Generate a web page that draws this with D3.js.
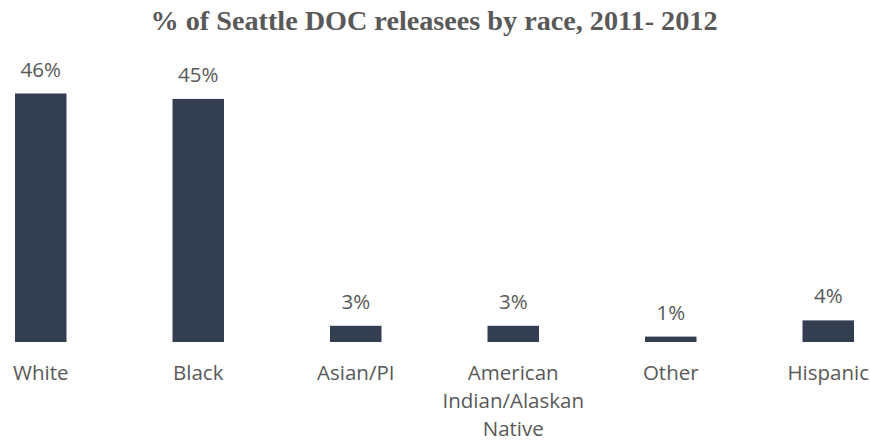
<!DOCTYPE html>
<html>
<head>
<meta charset="utf-8">
<script src="https://cdn.jsdelivr.net/npm/d3@7"></script>
<style>
  html, body { margin: 0; padding: 0; background: #fff; }
  svg { display: block; }
</style>
</head>
<body>
<svg id="chart" width="870" height="440"></svg>
<script>
// Share of Seattle DOC releasees by race, 2011-2012
const titleText = "% of Seattle DOC releasees by race, 2011- 2012";
const categories = ["White", "Black", "Asian/PI", "American Indian/Alaskan Native", "Other", "Hispanic"];
const values = [46, 45, 3, 3, 1, 4];
const valueLabels = ["46%", "45%", "3%", "3%", "1%", "4%"];

const W = 870, H = 440;
const barColor = "#333F50";
const textColor = "#595959";
const labelFont = "'Open Sans', 'Noto Sans', sans-serif";

const svg = d3.select("#chart");

// Horizontal band layout; the plot area runs slightly past both image edges
const x = d3.scaleBand()
  .domain(categories)
  .range([-91, 960])
  .paddingInner(0.673)
  .paddingOuter(0.673);

const y = d3.scaleLinear()
  .domain([0, 46])
  .range([342, 93.5]);

// Title, sized to span its full width
const title = svg.append("text")
  .attr("x", 434)
  .attr("y", 30)
  .attr("text-anchor", "middle")
  .attr("fill", textColor)
  .style("font-family", "'Liberation Serif', 'Times New Roman', serif")
  .style("font-weight", "bold")
  .style("font-size", "24px")
  .text(titleText);
const tw = title.node().getComputedTextLength();
title.style("font-size", (24 * 567 / tw).toFixed(2) + "px");

// Bars
svg.append("g").selectAll("rect")
  .data(categories)
  .join("rect")
  .attr("x", d => x(d))
  .attr("width", x.bandwidth())
  .attr("y", (d, i) => y(values[i]))
  .attr("height", (d, i) => y(0) - y(values[i]))
  .attr("fill", barColor);

// Value labels above bars
svg.append("g").selectAll("text")
  .data(categories)
  .join("text")
  .attr("x", d => x(d) + x.bandwidth() / 2)
  .attr("y", (d, i) => y(values[i]) - 17)
  .attr("text-anchor", "middle")
  .attr("fill", textColor)
  .style("font-family", labelFont)
  .style("font-size", "20.5px")
  .text((d, i) => valueLabels[i]);

// Category axis (no line, no ticks) with wrapped labels
const axis = svg.append("g")
  .attr("transform", `translate(0, ${y(0)})`)
  .call(d3.axisBottom(x).tickSize(0).tickPadding(0));
axis.select(".domain").remove();
axis.selectAll("text")
  .attr("fill", textColor)
  .attr("y", 0)
  .attr("dy", 0)
  .style("font-family", labelFont)
  .style("font-size", "20.5px")
  .each(function(d) { wrap(d3.select(this), d, 150); });

function wrap(sel, str, width) {
  const words = str.split(/\s+/);
  sel.text(null);
  const lines = [];
  let line = [];
  let tspan = sel.append("tspan");
  words.forEach(w => {
    line.push(w);
    tspan.text(line.join(" "));
    if (tspan.node().getComputedTextLength() > width && line.length > 1) {
      line.pop();
      lines.push(line.join(" "));
      line = [w];
      tspan.text(w);
    }
  });
  lines.push(line.join(" "));
  sel.text(null);
  lines.forEach((l, i) => {
    sel.append("tspan")
      .attr("x", 0)
      .attr("y", 37.5 + i * 28.3)
      .text(l);
  });
}
</script>
</body>
</html>
